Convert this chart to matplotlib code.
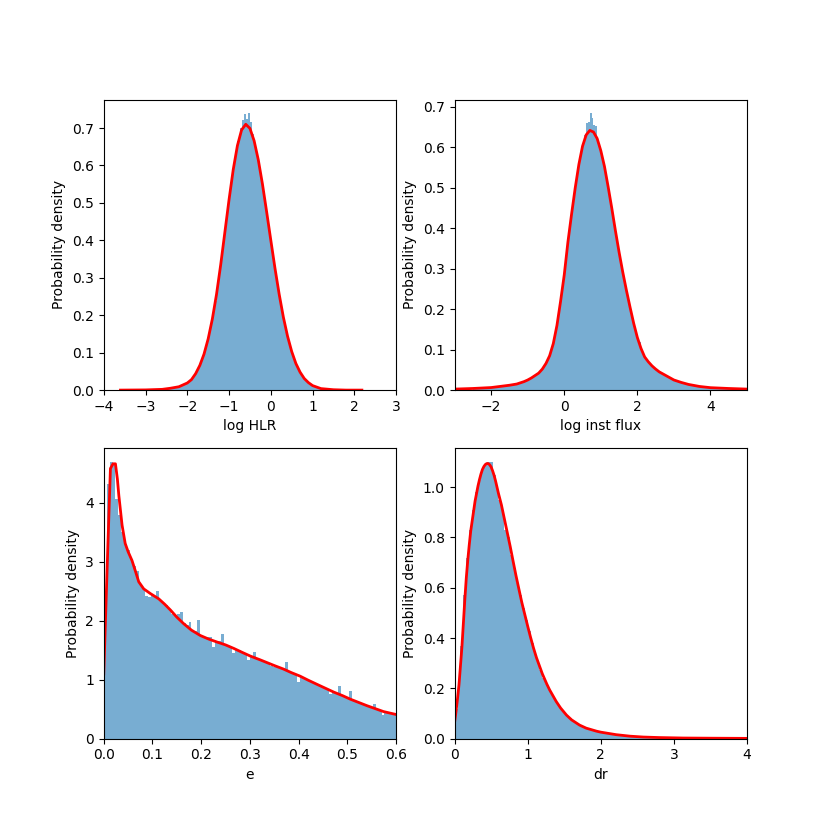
import numpy as np
import matplotlib
matplotlib.use("Agg")
import matplotlib.pyplot as plt

# ---- log HLR ----
hlr_start = -2.6
hlr_width = 0.05
hlr_hist = [0.001, 0.002, 0.002, 0.003, 0.004, 0.005, 0.006, 0.007, 0.009, 0.011,
            0.014, 0.018, 0.021, 0.026, 0.032, 0.040, 0.049, 0.060, 0.073, 0.088,
            0.105, 0.125, 0.149, 0.175, 0.205, 0.238, 0.275, 0.315, 0.357, 0.400,
            0.444, 0.487, 0.530, 0.570, 0.607, 0.639, 0.666, 0.700, 0.722, 0.738,
            0.724, 0.739, 0.715, 0.685, 0.655, 0.629, 0.600, 0.567, 0.532, 0.495,
            0.457, 0.419, 0.381, 0.343, 0.307, 0.272, 0.240, 0.209, 0.181, 0.156,
            0.133, 0.112, 0.094, 0.078, 0.065, 0.053, 0.043, 0.035, 0.028, 0.022,
            0.017, 0.013, 0.010, 0.008, 0.006, 0.004, 0.003, 0.002, 0.002, 0.001,
            0.001, 0.001]
hlr_x = [-3.6, -3.0, -2.6, -2.4, -2.2, -2.0, -1.9, -1.8, -1.7, -1.6, -1.5, -1.4,
         -1.3, -1.2, -1.1, -1.0, -0.9, -0.8, -0.7, -0.6, -0.5, -0.4, -0.3, -0.2,
         -0.1, 0.0, 0.1, 0.2, 0.3, 0.4, 0.5, 0.6, 0.7, 0.8, 0.9, 1.0, 1.2, 1.5,
         1.8, 2.18]
hlr_fit = [0.0, 0.0005, 0.002, 0.005, 0.009, 0.019, 0.028, 0.044, 0.066, 0.096,
           0.137, 0.19, 0.256, 0.335, 0.422, 0.509, 0.589, 0.653, 0.695, 0.710,
           0.699, 0.666, 0.615, 0.550, 0.476, 0.400, 0.325, 0.256, 0.195, 0.144,
           0.103, 0.071, 0.048, 0.031, 0.020, 0.012, 0.004, 0.001, 0.0, 0.0]

# ---- log inst flux ----
flux_start = -2.5
flux_width = 0.05
flux_hist = [0.004, 0.004, 0.004, 0.005, 0.005, 0.005, 0.005, 0.006, 0.006, 0.006,
             0.007, 0.007, 0.008, 0.008, 0.009, 0.009, 0.010, 0.010, 0.011, 0.012,
             0.012, 0.013, 0.014, 0.015, 0.016, 0.018, 0.019, 0.021, 0.023, 0.024,
             0.026, 0.028, 0.031, 0.034, 0.037, 0.040, 0.044, 0.049, 0.055, 0.062,
             0.070, 0.079, 0.092, 0.106, 0.126, 0.148, 0.175, 0.204, 0.236, 0.268,
             0.305, 0.345, 0.384, 0.418, 0.452, 0.485, 0.515, 0.544, 0.570, 0.592,
             0.612, 0.630, 0.660, 0.662, 0.684, 0.672, 0.655, 0.652, 0.615, 0.598,
             0.582, 0.562, 0.540, 0.515, 0.490, 0.462, 0.436, 0.408, 0.380, 0.354,
             0.328, 0.304, 0.281, 0.258, 0.236, 0.215, 0.195, 0.175, 0.156, 0.140,
             0.125, 0.118, 0.100, 0.088, 0.080, 0.073, 0.068, 0.063, 0.058, 0.054,
             0.050, 0.047, 0.045, 0.042, 0.040, 0.037, 0.035, 0.032, 0.030, 0.028,
             0.026, 0.024, 0.023, 0.021, 0.020, 0.019, 0.018, 0.016, 0.015, 0.014,
             0.013, 0.012, 0.012, 0.011, 0.010, 0.010, 0.009, 0.009, 0.008, 0.008,
             0.007, 0.007, 0.007, 0.006, 0.006, 0.006, 0.005, 0.005, 0.005, 0.005,
             0.004, 0.004, 0.004, 0.004, 0.004, 0.003, 0.003, 0.003, 0.003, 0.003]
flux_x = [-3.0, -2.5, -2.0, -1.5, -1.3, -1.1, -1.0, -0.9, -0.8, -0.7, -0.6, -0.5,
          -0.4, -0.3, -0.2, -0.1, 0.0, 0.1, 0.2, 0.3, 0.4, 0.5, 0.6, 0.7, 0.8,
          0.9, 1.0, 1.1, 1.2, 1.3, 1.4, 1.5, 1.6, 1.7, 1.8, 1.9, 2.0, 2.1, 2.2,
          2.3, 2.4, 2.5, 2.6, 2.8, 3.0, 3.2, 3.4, 3.7, 4.0, 4.5, 5.0]
flux_fit = [0.0025, 0.004, 0.0063, 0.012, 0.015, 0.021, 0.025, 0.030, 0.036, 0.042,
            0.052, 0.066, 0.085, 0.115, 0.160, 0.220, 0.285, 0.366, 0.435, 0.500,
            0.558, 0.603, 0.631, 0.642, 0.638, 0.622, 0.592, 0.553, 0.503, 0.450,
            0.394, 0.341, 0.292, 0.247, 0.205, 0.165, 0.130, 0.103, 0.082, 0.070,
            0.060, 0.052, 0.045, 0.035, 0.025, 0.019, 0.014, 0.009, 0.006, 0.004,
            0.0025]

# ---- e ----
e_start = 0.0
e_width = 0.006
e_hist = [2.32, 4.32, 4.69, 4.65, 4.07, 3.80, 3.50, 3.30, 3.20, 3.05,
          2.92, 2.85, 2.62, 2.55, 2.42, 2.40, 2.43, 2.40, 2.50, 2.35,
          2.30, 2.26, 2.20, 2.12, 2.08, 2.12, 2.15, 1.96, 1.92, 1.98,
          1.84, 1.82, 2.02, 1.74, 1.70, 1.72, 1.72, 1.55, 1.64, 1.66,
          1.77, 1.60, 1.58, 1.55, 1.46, 1.52, 1.50, 1.45, 1.44, 1.33,
          1.39, 1.47, 1.36, 1.33, 1.31, 1.29, 1.27, 1.24, 1.22, 1.23,
          1.19, 1.18, 1.30, 1.13, 1.11, 1.09, 0.96, 1.05, 1.02, 1.00,
          0.97, 0.95, 0.93, 0.90, 0.88, 0.86, 0.83, 0.76, 0.79, 0.77,
          0.89, 0.73, 0.71, 0.69, 0.81, 0.65, 0.63, 0.61, 0.59, 0.57,
          0.55, 0.54, 0.59, 0.50, 0.49, 0.41, 0.45, 0.44, 0.43, 0.42]
e_x = [0.0, 0.007, 0.0137, 0.019, 0.024, 0.028, 0.031, 0.0376, 0.044, 0.05,
       0.058, 0.065, 0.0718, 0.082, 0.0957, 0.113, 0.125, 0.137, 0.15, 0.164,
       0.18, 0.198, 0.215, 0.232, 0.25, 0.267, 0.285, 0.301, 0.32, 0.335,
       0.35, 0.369, 0.385, 0.403, 0.42, 0.438, 0.455, 0.472, 0.49, 0.506,
       0.523, 0.54, 0.557, 0.574, 0.6]
e_fit = [1.10, 2.9, 4.58, 4.66, 4.66, 4.40, 4.12, 3.62, 3.31, 3.17,
         3.02, 2.84, 2.66, 2.54, 2.46, 2.37, 2.28, 2.18, 2.06, 1.95,
         1.84, 1.75, 1.69, 1.64, 1.59, 1.53, 1.46, 1.40, 1.34, 1.29,
         1.24, 1.18, 1.12, 1.06, 0.99, 0.92, 0.855, 0.79, 0.73, 0.67,
         0.615, 0.56, 0.51, 0.46, 0.41]

# ---- dr ----
dr_start = 0.0
dr_width = 0.04
dr_hist = [0.12, 0.23, 0.37, 0.57, 0.72, 0.83, 0.91, 0.98, 1.03, 1.07,
           1.09, 1.10, 1.10, 1.05, 1.00, 0.95, 0.91, 0.83, 0.80, 0.73,
           0.68, 0.62, 0.57, 0.52, 0.47, 0.43, 0.38, 0.34, 0.31, 0.274,
           0.240, 0.218, 0.194, 0.172, 0.152, 0.134, 0.118, 0.104, 0.092, 0.082,
           0.073, 0.064, 0.056, 0.050, 0.045, 0.041, 0.037, 0.033, 0.030, 0.027,
           0.025, 0.023, 0.021, 0.019, 0.017, 0.016, 0.014, 0.013, 0.012, 0.011,
           0.010, 0.009, 0.008, 0.007, 0.0066, 0.006, 0.0058, 0.0055, 0.005, 0.0048,
           0.0045, 0.0043, 0.004, 0.0038, 0.0036, 0.0034, 0.0032, 0.003, 0.0029, 0.0028,
           0.0027, 0.0026, 0.0025, 0.0024, 0.0023, 0.0022, 0.0021, 0.002, 0.002, 0.0019,
           0.0018, 0.0018, 0.0017, 0.0016, 0.0016, 0.0015, 0.0015, 0.0014, 0.0014, 0.0013]
dr_x = [0.0, 0.02, 0.04, 0.06, 0.08, 0.10, 0.12, 0.14, 0.16, 0.18, 0.20, 0.22,
        0.24, 0.26, 0.28, 0.30, 0.32, 0.34, 0.36, 0.38, 0.40, 0.42, 0.44, 0.46,
        0.48, 0.50, 0.52, 0.54, 0.56, 0.58, 0.60, 0.64, 0.68, 0.72, 0.76, 0.80,
        0.84, 0.88, 0.92, 0.96, 1.00, 1.04, 1.08, 1.12, 1.16, 1.20, 1.26, 1.30,
        1.39, 1.45, 1.53, 1.60, 1.71, 1.80, 1.94, 2.0, 2.21, 2.4, 2.58, 2.8,
        3.13, 3.5, 4.0]
dr_fit = [0.066, 0.11, 0.16, 0.215, 0.29, 0.365, 0.46, 0.555, 0.64, 0.71, 0.77, 0.825,
          0.865, 0.905, 0.945, 0.975, 1.005, 1.030, 1.052, 1.07, 1.082, 1.090, 1.094, 1.094,
          1.089, 1.080, 1.065, 1.047, 1.025, 1.00, 0.975, 0.93, 0.875, 0.82, 0.765, 0.706,
          0.648, 0.594, 0.541, 0.494, 0.447, 0.402, 0.36, 0.322, 0.29, 0.258, 0.218, 0.194,
          0.148, 0.122, 0.094, 0.075, 0.054, 0.042, 0.030, 0.026, 0.016, 0.010, 0.0066, 0.0045,
          0.0027, 0.002, 0.0013]

panels = [
    (hlr_start, hlr_width, hlr_hist, hlr_x, hlr_fit, "log HLR", (-4, 3)),
    (flux_start, flux_width, flux_hist, flux_x, flux_fit, "log inst flux", (-3, 5)),
    (e_start, e_width, e_hist, e_x, e_fit, "e", (0, 0.6)),
    (dr_start, dr_width, dr_hist, dr_x, dr_fit, "dr", (0, 4)),
]

fig, axes = plt.subplots(2, 2, figsize=(8.3, 8.3), dpi=100)

for ax, (start, width, hist, xs, fit, label, xlim) in zip(axes.flat, panels):
    left = start + width * np.arange(len(hist))
    ax.bar(left, hist, width=width, align='edge', color='tab:blue', alpha=0.6)
    ax.plot(xs, fit, color='r', lw=2)
    ax.set_xlim(xlim)
    ax.set_xlabel(label)
    ax.set_ylabel("Probability density")

plt.savefig("out.png")
